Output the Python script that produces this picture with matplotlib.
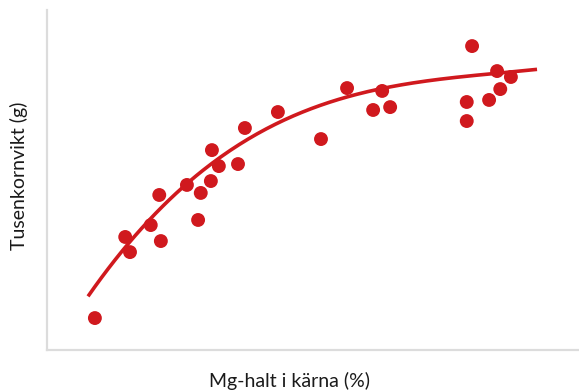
import matplotlib
matplotlib.use("Agg")
import matplotlib.pyplot as plt
import numpy as np

# Mg content in the kernel (%) and thousand-kernel weight (g)
mg_halt = [0.1090, 0.1147, 0.1156, 0.1195, 0.1214, 0.1211, 0.1263, 0.1289, 0.1284,
           0.1308, 0.1310, 0.1323, 0.1359, 0.1372, 0.1434, 0.1515, 0.1564, 0.1630,
           0.1613, 0.1645, 0.1799, 0.1789, 0.1789, 0.1831, 0.1852, 0.1846, 0.1872]
tkv = [31.88, 36.65, 35.76, 37.35, 36.41, 39.12, 39.71, 39.24, 37.65,
       39.94, 41.76, 40.82, 40.94, 43.06, 44.00, 42.41, 45.41, 45.24,
       44.12, 44.29, 47.88, 44.59, 43.47, 44.71, 45.35, 46.41, 46.06]

# trend curve values
trend_mg = [0.10771, 0.11429, 0.11936, 0.12632, 0.13195, 0.13816, 0.14436,
            0.15075, 0.16071, 0.16692, 0.17632, 0.18459, 0.19211]
trend_tkv = [33.06, 36.06, 37.65, 39.82, 41.18, 42.35, 43.53,
             44.41, 45.15, 45.65, 46.00, 46.35, 46.47]

RED = "#d0191e"

# smooth third-degree trend through the curve values
coef = np.polyfit(trend_mg, trend_tkv, 3)
xs = np.linspace(trend_mg[0], trend_mg[-1], 200)

fig = plt.figure(figsize=(5.79, 3.92), dpi=100)
ax = fig.add_axes([0.0812, 0.1071, 0.9188, 0.8673])

ax.plot(xs, np.polyval(coef, xs), color=RED, lw=2.6, solid_capstyle="butt", zorder=2)
ax.scatter(mg_halt, tkv, s=100, color=RED, edgecolors="none", zorder=3)

ax.set_xlim(0.10, 0.20)
ax.set_ylim(30, 50)
ax.set_xticks([])
ax.set_yticks([])
for side in ("top", "right"):
    ax.spines[side].set_visible(False)
for side in ("left", "bottom"):
    ax.spines[side].set_color("#dcdcdc")
    ax.spines[side].set_linewidth(1.6)

fig.text(0.5, 0.028, "Mg-halt i kärna (%)", ha="center", va="center",
         fontsize=14, family="Lato", color="#1a1a1a")
fig.text(0.033, 0.551, "Tusenkornvikt (g)", ha="center", va="center",
         rotation=90, fontsize=14, family="Lato", color="#1a1a1a")

fig.savefig("out.png", dpi=100)
